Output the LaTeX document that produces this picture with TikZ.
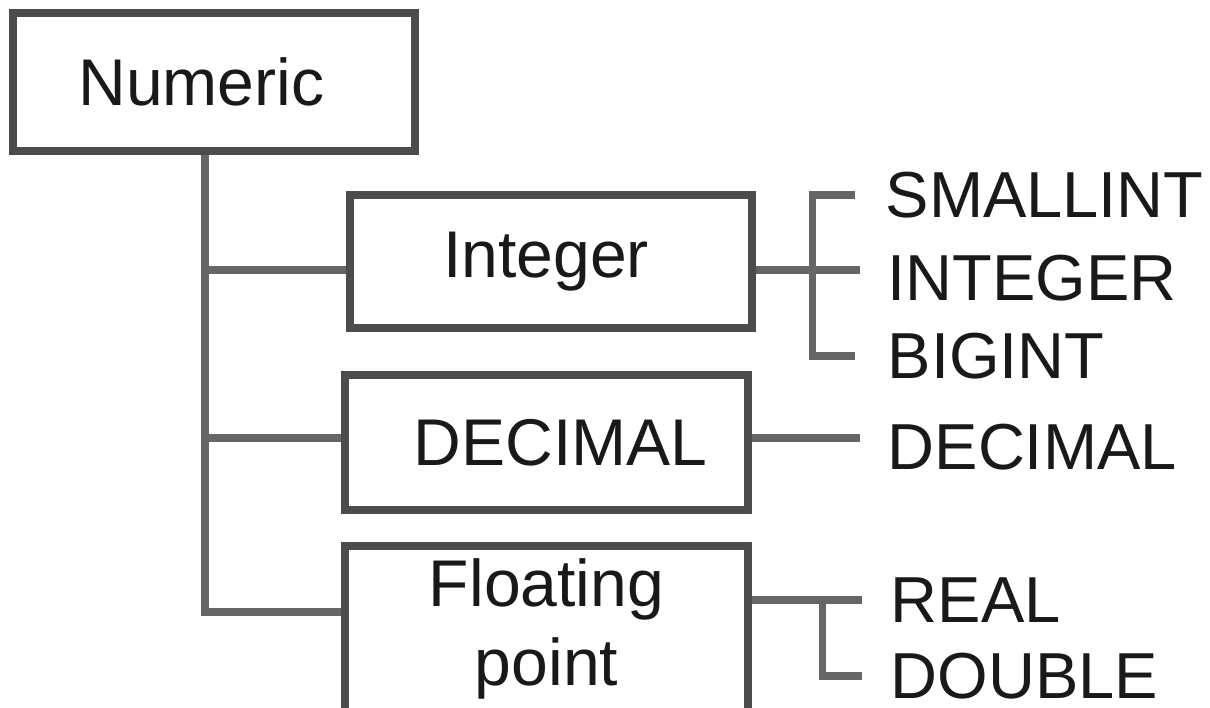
\documentclass[tikz,border=0pt]{standalone}
\usepackage{fontspec}
\setmainfont{Liberation Sans}
\usetikzlibrary{positioning}

\tikzset{
  box/.style={draw=black!70, line width=2pt, fill=white, text=black!90,
    minimum width=4.02cm, inner sep=0pt, font=\fontsize{18.8}{22.5}\selectfont},
  link/.style={draw=black!60, line width=2pt},
  type/.style={anchor=west, inner sep=0pt, text=black!90, font=\fontsize{18.5}{22.5}\selectfont}
}

\begin{document}
\begin{tikzpicture}
  \useasboundingbox (0,0) rectangle (12.1,-7.08);
  \node[box, minimum height=1.38cm] (Numeric) at (2.14,-0.82) {\hspace*{-0.25cm}Numeric};
  \node[box, minimum height=1.33cm] (Integer) at (5.51,-2.615) {\hspace*{-0.1cm}Integer};
  \node[box, minimum width=4.03cm, minimum height=1.35cm] (Decimal) at (5.465,-4.425) {\hspace*{0.28cm}DECIMAL};
  \node[box, minimum width=4.03cm, minimum height=1.66cm, align=center] (Float) at (5.465,-6.29) {Floating\\point};
  \node[type] (lSmall) at (8.85,-1.95) {SMALLINT};
  \node[type] (lInt) at (8.87,-2.78) {INTEGER};
  \node[type] (lBig) at (8.87,-3.56) {BIGINT};
  \node[type] (lDec) at (8.87,-4.47) {DECIMAL};
  \node[type] (lReal) at (8.9,-6.0) {REAL};
  \node[type] (lDouble) at (8.9,-6.76) {DOUBLE};
  \coordinate (trunk) at ([xshift=-0.09cm]Numeric.south);
  \coordinate (bInt) at ([yshift=-0.085cm]Integer.west);
  \coordinate (bDec) at ([yshift=0.045cm]Decimal.west);
  \coordinate (bFl) at ([yshift=0.17cm]Float.west);
  \draw[link] (trunk) |- (bFl);
  \draw[link] (bInt) -- (bInt -| trunk);
  \draw[link] (bDec) -- (bDec -| trunk);
  \coordinate (eInt) at ([yshift=-0.085cm]Integer.east);
  \coordinate (tipInt) at ([xshift=-0.25cm]lSmall.west);
  \draw[link] (eInt) -- (eInt -| tipInt);
  \draw[link] ([xshift=-0.3cm]lSmall.west) -- ++(-0.43,0) |- ([xshift=-0.32cm]lBig.west);
  \coordinate (eDec) at ([yshift=0.045cm]Decimal.east);
  \coordinate (tipDec) at ([xshift=-0.27cm]lDec.west);
  \draw[link] (eDec) -- (eDec -| tipDec);
  \draw[link] (Float.east |- lReal.west) -- ([xshift=-0.28cm]lReal.west);
  \draw[link] ([xshift=-0.68cm]lReal.west) |- ([xshift=-0.28cm]lDouble.west);
\end{tikzpicture}
\end{document}
